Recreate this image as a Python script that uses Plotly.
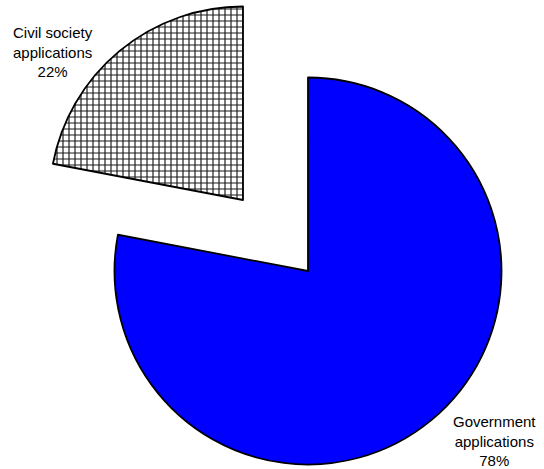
import plotly.graph_objects as go

# Shares of applications by origin
labels = ["Government applications", "Civil society applications"]
shares = [78, 22]
label_text = ["Government<br>applications", "Civil society<br>applications"]

W, H = 544, 469
R = 193.5                      # pie radius in px
MAIN_CENTER = (308, 271)       # centre of the main pie (px, from top-left)
PULLED_CENTER = (243, 200)     # vertex of the exploded slice


def domain(cx, cy, r):
    return dict(
        x=[(cx - r) / W, (cx + r) / W],
        y=[1 - (cy + r) / H, 1 - (cy - r) / H],
    )


fig = go.Figure()

# Main pie: only the government slice is visible
fig.add_trace(go.Pie(
    labels=labels, values=shares, sort=False, direction="clockwise", rotation=0,
    marker=dict(colors=["#0000FF", "rgba(0,0,0,0)"],
                line=dict(color="black", width=[1.8, 0])),
    textinfo="none", hoverinfo="label+percent", showlegend=False,
    domain=domain(*MAIN_CENTER, R),
))

# Exploded civil society slice, drawn with a cross-hatch fill
fig.add_trace(go.Pie(
    labels=labels, values=shares, sort=False, direction="clockwise", rotation=0,
    marker=dict(colors=["rgba(0,0,0,0)", "white"],
                line=dict(color="black", width=[0, 1.8]),
                pattern=dict(shape=["", "+"], fgcolor="#1a1a1a", bgcolor="white",
                             size=6, solidity=0.35)),
    textinfo="none", hoverinfo="label+percent", showlegend=False,
    domain=domain(*PULLED_CENTER, R),
))

# Category labels with percentages
label_pos = [(494, 441), (53, 52)]
for txt, val, (x, y) in zip(label_text, shares, label_pos):
    fig.add_annotation(
        x=x / W, y=1 - y / H, xref="paper", yref="paper",
        text=f"{txt}<br>{val}%", showarrow=False, align="center",
        xanchor="center", yanchor="middle",
        font=dict(family="Liberation Sans, Arial, sans-serif", size=15, color="black"),
    )

fig.update_layout(
    width=W, height=H, margin=dict(l=0, r=0, t=0, b=0),
    paper_bgcolor="white", plot_bgcolor="white",
)

fig.write_html("out.html")
